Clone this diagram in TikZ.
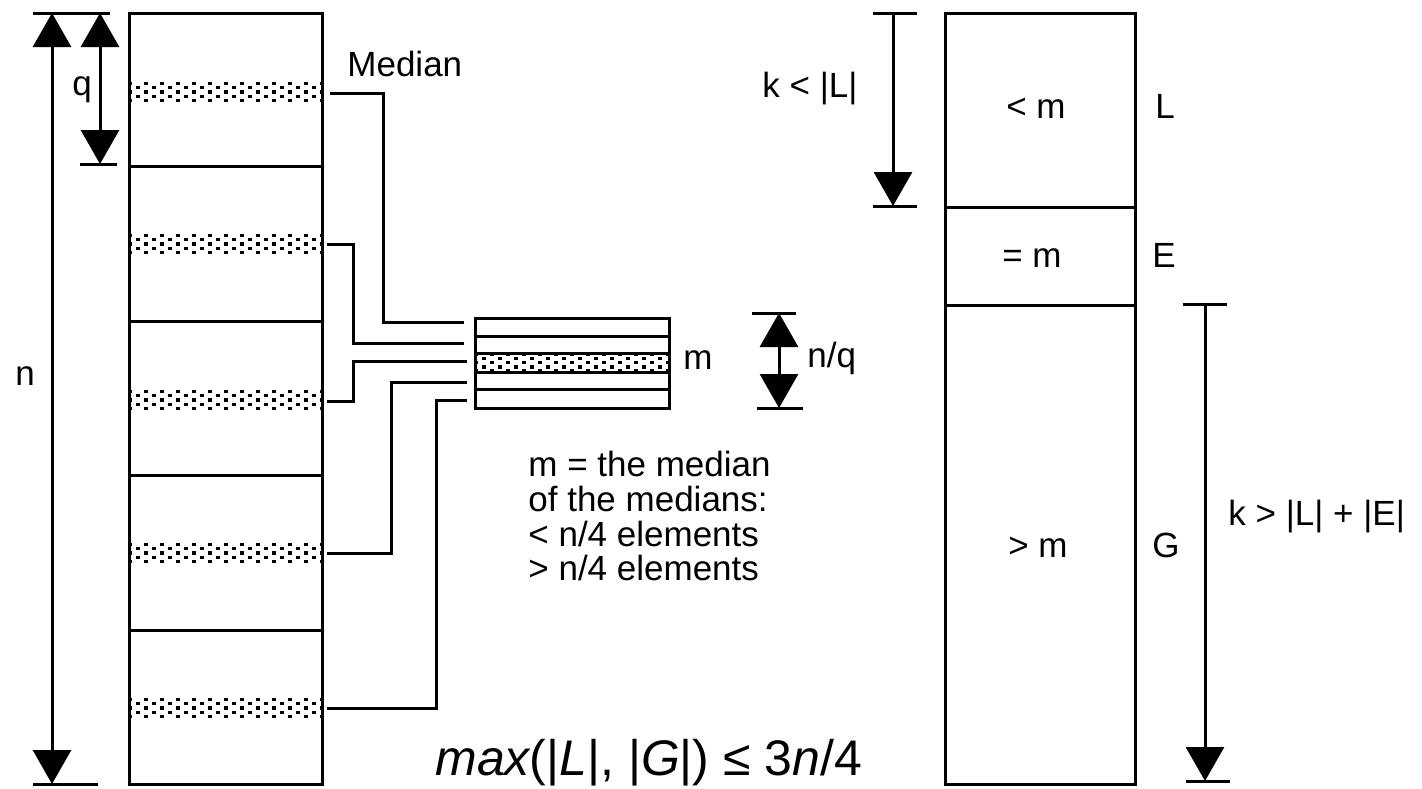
\documentclass[tikz,border=0pt]{standalone}
\usepackage{fontspec}
\setmainfont{Liberation Sans}
\usetikzlibrary{arrows.meta}
\tikzset{
  ln/.style={line width=1.5pt},
  tip/.tip={Triangle[width=19pt,length=17pt]},
  dimboth/.style={line width=1.5pt, tip-tip},
  dimend/.style={line width=1.5pt, -tip},
  lbl/.style={font=\fontsize{17.5}{17.2}\selectfont, inner sep=0pt},
  big/.style={font=\fontsize{25}{30}\selectfont, inner sep=0pt},
}
\newcommand{\mydotband}[2]{%
  \foreach \i in {0,...,24} {
    \foreach \j in {-2,...,2} {
      \pgfmathtruncatemacro{\myparity}{mod(\i+\j+4,2)}
      \ifnum\myparity=0
        \fill ({#1+8*\i-1.7},{#2+4.3*\j-1.7}) rectangle ++(3.4,3.4);
      \fi
    }
  }%
}
\begin{document}
\begin{tikzpicture}[x=0.5pt,y=-0.5pt]
\useasboundingbox (0,0) rectangle (1422,788);

% left column
\draw[ln] (129,13) rectangle (322,784);
\foreach \yy in {166,321,475,630} \draw[ln] (129,\yy) -- (322,\yy);
\foreach \yc in {92,244,400,553,708} { \mydotband{130}{\yc} }

% small box
\draw[ln] (475,318) rectangle (669,408);
\foreach \yy in {336,353,372,389} \draw[ln] (475,\yy) -- (669,\yy);
\mydotband{476}{362.5}

% connectors
\coordinate (s1) at (330,93);  \coordinate (e1) at (464,322);
\coordinate (s2) at (327,244); \coordinate (e2) at (464,343);
\coordinate (s3) at (327,401); \coordinate (e3) at (467,361);
\coordinate (s4) at (327,553); \coordinate (e4) at (467,382);
\coordinate (s5) at (327,708); \coordinate (e5) at (467,400);
\draw[ln] (s1) -- ++(53,0) |- (e1);
\draw[ln] (s2) -- ++(26,0) |- (e2);
\draw[ln] (s3) -- ++(26,0) |- (e3);
\draw[ln] (s4) -- ++(64,0) |- (e4);
\draw[ln] (s5) -- ++(109,0) |- (e5);

% right column
\draw[ln] (945,13) rectangle (1135,784);
\draw[ln] (945,207) -- (1135,207);
\draw[ln] (945,305) -- (1135,305);

% dimension arrows
\coordinate (na) at (52,13);   \coordinate (nb) at (52,784);
\coordinate (qa) at (100,13);  \coordinate (qb) at (100,164);
\coordinate (ka) at (893,13);  \coordinate (kb) at (893,206);
\coordinate (ma) at (779,313); \coordinate (mb) at (779,408);
\coordinate (ga) at (1205,304); \coordinate (gb) at (1205,781);
\draw[ln] (33,13) -- (110,13);
\draw[ln] (33,784) -- (98,784);
\draw[ln] (80,164) -- (117,164);
\draw[dimboth] (na) -- (nb);
\draw[dimboth] (qa) -- (qb);
\draw[ln] (873,13) -- (917,13);
\draw[ln] (873,206) -- (917,206);
\draw[dimend] (ka) -- (kb);
\draw[ln] (752,313) -- (796,313);
\draw[ln] (757,408) -- (803,408);
\draw[dimboth] (ma) -- (mb);
\draw[ln] (1183,304) -- (1227,304);
\draw[ln] (1186,781) -- (1230,781);
\draw[dimend] (ga) -- (gb);

% labels
\node[lbl, anchor=base west] (median) at (347,76) {Median};
\node[lbl, anchor=base] (q) at (82,95) {q};
\node[lbl, anchor=base] (n) at (25,385) {n};
\node[lbl, anchor=base west] (m) at (683,369) {m};
\node[lbl, anchor=base west] (nq) at (807,367) {n/q};
\node[lbl, anchor=base west] (t1) at (528,476) {m = the median};
\node[lbl, anchor=base west] (t2) at (528,511) {of the medians:};
\node[lbl, anchor=base west] (t3) at (528,546) {< n/4 elements};
\node[lbl, anchor=base west] (t4) at (528,580) {> n/4 elements};
\node[lbl, anchor=base west] (kl) at (762,97) {k < |L|};
\node[lbl, anchor=base] (lm) at (1036,118) {< m};
\node[lbl, anchor=base west] (L) at (1155,118) {L};
\node[lbl, anchor=base] (em) at (1032,267) {= m};
\node[lbl, anchor=base west] (E) at (1152,267) {E};
\node[lbl, anchor=base] (gm) at (1038,557) {> m};
\node[lbl, anchor=base west] (G) at (1152,557) {G};
\node[lbl, anchor=base west] (kg) at (1228,525) {k > |L| + |E|};
\node[big, anchor=base west] (f) at (435,775) {\itshape max\upshape(|\itshape L\upshape|, |\itshape G\upshape|) ≤ 3\itshape n\upshape/4};
\end{tikzpicture}
\end{document}
